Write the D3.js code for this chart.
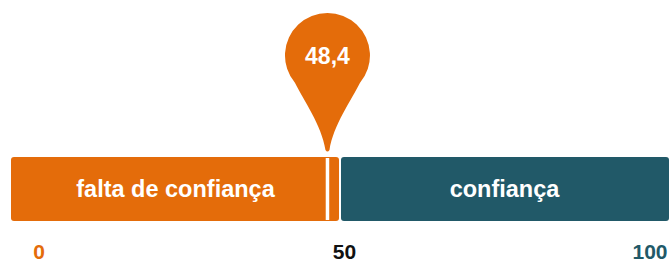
<!DOCTYPE html>
<html>
<head>
<meta charset="utf-8">
<script src="https://cdn.jsdelivr.net/npm/d3@7"></script>
<style>
  html, body { margin: 0; padding: 0; background: #fff; }
  svg { display: block; font-family: "Liberation Sans", Arial, sans-serif; }
</style>
</head>
<body>
<svg id="chart" width="669" height="262"></svg>
<script>
/* Dados do gráfico */
const SEGMENTS = ['falta de confiança', 'confiança'];
const SEGMENT_BOUNDS = [[0, 50], [50, 100]];
const MARKER_VALUE = 48.4;
const MARKER_LABEL = '48,4';
const TICK_VALUES = [0, 50, 100];
const TICK_LABELS = ['0', '50', '100'];

/* Cores */
const COLORS = {
  orange: '#E46C0A',
  teal  : '#215968',
  black : '#111111',
  white : '#FFFFFF'
};
const SEGMENT_COLORS = [COLORS.orange, COLORS.teal];
const TICK_COLORS = [COLORS.orange, COLORS.black, COLORS.teal];

const svg = d3.select('#chart');

// escala da barra e escala dos rótulos (os rótulos ficam recolhidos)
const x = d3.scaleLinear().domain([0, 100]).range([11, 669]);
const xLabel = d3.scaleLinear().domain([0, 100]).range([39, 650]);

const barTop = 157, barH = 64;

// segmentos
const seg = svg.selectAll('.seg')
  .data(SEGMENTS.map((name, i) => ({ name, b: SEGMENT_BOUNDS[i], color: SEGMENT_COLORS[i] })))
  .join('g')
    .attr('class', 'seg');

seg.append('rect')
  .attr('x', d => x(d.b[0]) + (d.b[0] > 0 ? 1 : 0))
  .attr('y', barTop)
  .attr('width', d => x(d.b[1]) - x(d.b[0]) - 1)
  .attr('height', barH)
  .attr('rx', 3)
  .attr('fill', d => d.color);

seg.append('text')
  .attr('x', d => (x(d.b[0]) + x(d.b[1])) / 2)
  .attr('y', barTop + barH / 2)
  .attr('dy', '0.36em')
  .attr('text-anchor', 'middle')
  .attr('fill', COLORS.white)
  .attr('font-weight', 'bold')
  .attr('font-size', 23.5)
  .text(d => d.name);

// marcador branco
const mx = x(MARKER_VALUE) - 2;
svg.append('rect')
  .attr('x', mx - 1.75)
  .attr('y', barTop + 1)
  .attr('width', 3.5)
  .attr('height', barH - 2)
  .attr('fill', COLORS.white);

// alfinete (pin)
const cy = 55.5, r = 42.5, tipY = 152;
const a = 50 * Math.PI / 180;
const lx = mx - r * Math.sin(a), ly = cy + r * Math.cos(a);
const pin = d3.path();
pin.moveTo(lx, ly);
pin.arc(mx, cy, r, Math.PI / 2 + a, Math.PI / 2 - a + 2 * Math.PI);
pin.bezierCurveTo(mx + 24, 100, mx + 6, 125, mx + 2, tipY - 2);
pin.quadraticCurveTo(mx, tipY + 1, mx - 2, tipY - 2);
pin.bezierCurveTo(mx - 6, 125, mx - 24, 100, lx, ly);
pin.closePath();

svg.append('path')
  .attr('d', pin.toString())
  .attr('fill', COLORS.orange);

svg.append('text')
  .attr('x', mx)
  .attr('y', cy)
  .attr('dy', '0.36em')
  .attr('text-anchor', 'middle')
  .attr('fill', COLORS.white)
  .attr('font-weight', 'bold')
  .attr('font-size', 23)
  .text(MARKER_LABEL);

// rótulos do eixo
svg.selectAll('.tick-label')
  .data(TICK_VALUES)
  .join('text')
    .attr('class', 'tick-label')
    .attr('x', d => xLabel(d))
    .attr('y', 259)
    .attr('text-anchor', 'middle')
    .attr('fill', (d, i) => TICK_COLORS[i])
    .attr('font-weight', 'bold')
    .attr('font-size', 21)
    .text((d, i) => TICK_LABELS[i]);
</script>
</body>
</html>
